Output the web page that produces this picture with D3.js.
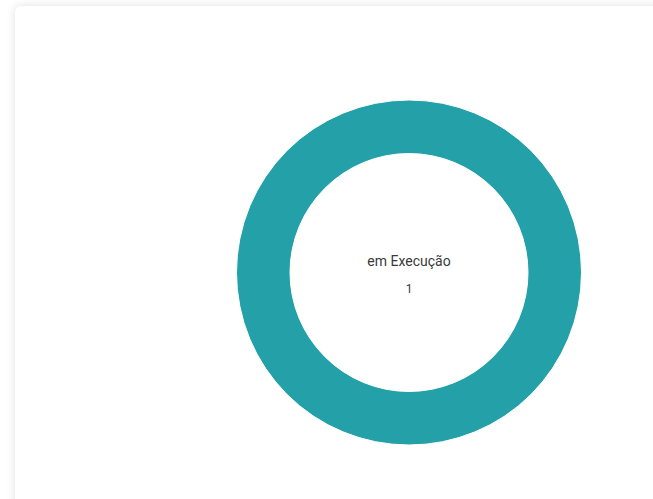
<!DOCTYPE html>
<html>
<head>
<meta charset="utf-8">
<script src="https://cdn.jsdelivr.net/npm/d3@7"></script>
<style>
  html, body { margin: 0; padding: 0; background: #fff; overflow: hidden; }
  body { width: 653px; height: 499px; position: relative; }
  .card {
    position: absolute;
    left: 15px;
    top: 6px;
    width: 700px;
    height: 560px;
    background: #fff;
    border-radius: 6px;
    box-shadow: 0 0 10px rgba(0, 0, 0, 0.13);
  }
  #chart { position: absolute; left: 0; top: 0; }
</style>
</head>
<body>
<div class="card"></div>
<div id="chart"></div>
<script>
const categories = ['em Execução']
const values = [1]
const colors = ['#23a0a8']

const width = 653
const height = 499
const cx = 409
const cy = 272.5
const outerRadius = 172.5
const innerRadius = 119

const data = categories.map((name, i) => ({ name, value: values[i] }))

const svg = d3.select('#chart')
  .append('svg')
  .attr('width', width)
  .attr('height', height)

const g = svg.append('g')
  .attr('transform', `translate(${cx},${cy})`)

const pie = d3.pie()
  .value(d => d.value)
  .sort(null)

const arc = d3.arc()
  .innerRadius(innerRadius)
  .outerRadius(outerRadius)

const color = d3.scaleOrdinal()
  .domain(categories)
  .range(colors)

g.selectAll('path')
  .data(pie(data))
  .join('path')
  .attr('d', arc)
  .attr('fill', d => color(d.data.name))
  .attr('stroke', '#fff')
  .attr('stroke-width', 1)

// centre label
g.append('text')
  .attr('y', -7)
  .attr('text-anchor', 'middle')
  .attr('font-family', 'Roboto, sans-serif')
  .attr('font-size', 14)
  .attr('fill', '#3a3a3a')
  .text(data[0].name)

g.append('text')
  .attr('y', 20)
  .attr('text-anchor', 'middle')
  .attr('font-family', 'Roboto, sans-serif')
  .attr('font-size', 12)
  .attr('fill', '#3a3a3a')
  .text(d3.sum(values))
</script>
</body>
</html>
